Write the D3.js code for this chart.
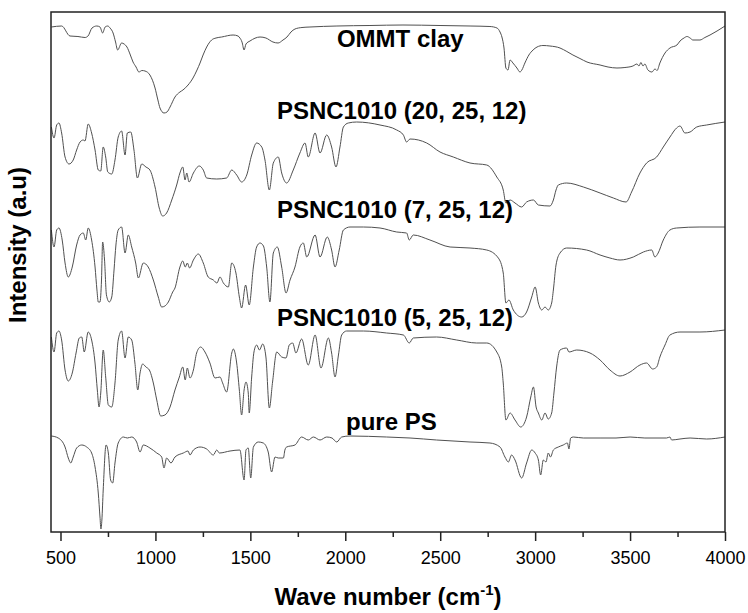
<!DOCTYPE html>
<html>
<head>
<meta charset="utf-8">
<script src="https://cdn.jsdelivr.net/npm/d3@7/dist/d3.min.js"></script>
<style>
  body { margin: 0; background: #fff; }
  text { font-family: "Liberation Sans", Arial, sans-serif; }
</style>
</head>
<body>
<svg id="chart" width="748" height="613"></svg>
<script>
// FTIR spectra, [wave number (cm-1), stacked intensity (a.u.)]
const ommtClay = [
  [452,50.5],[506,50.6],[550,49.6],[592,49.55],[629,49.45],[645,49.6],[666,50.4],[691,50.6],
  [708,50.5],[722,49.9],[735,50.5],[749,50.6],[761,50.4],[777,49.9],[790,49.0],[801,48.2],
  [822,48.9],[835,48.8],[850,48.5],[866,47.8],[882,47.0],[898,46.5],[913,46.0],[929,46.15],
  [945,46.1],[971,45.7],[998,44.4],[1013,43.2],[1024,42.4],[1045,41.9],[1061,42.0],[1077,42.5],
  [1103,43.5],[1129,44.0],[1145,44.2],[1172,44.7],[1198,45.4],[1219,46.2],[1235,46.9],[1251,47.7],
  [1270,48.5],[1296,49.2],[1319,49.4],[1349,49.5],[1409,49.7],[1435,49.6],[1445,49.4],[1456,49.0],
  [1467,48.2],[1477,48.8],[1498,49.1],[1551,49.5],[1582,49.4],[1619,49.0],[1646,48.9],[1672,49.2],
  [1693,49.5],[1714,50.0],[1735,50.3],[1772,50.45],[1814,50.5],[1956,50.6],[2130,50.65],[2304,50.7],
  [2499,50.65],[2657,50.6],[2762,50.55],[2799,50.4],[2815,50.0],[2825,49.5],[2836,48.4],[2846,46.4],
  [2857,46.2],[2868,47.2],[2883,46.9],[2904,46.4],[2920,46.0],[2930,46.2],[2946,46.9],[2967,47.7],
  [2989,48.2],[3010,48.5],[3041,48.65],[3078,48.6],[3131,48.4],[3167,48.05],[3199,47.7],[3236,47.35],
  [3273,47.0],[3342,46.7],[3384,46.5],[3431,46.4],[3473,46.45],[3515,46.6],[3536,46.8],[3547,46.6],
  [3557,46.95],[3568,46.6],[3578,46.8],[3594,46.2],[3615,46.0],[3631,46.3],[3642,46.15],[3657,46.9],
  [3684,47.9],[3710,48.4],[3747,48.7],[3763,49.1],[3784,49.4],[3800,49.55],[3816,49.4],[3831,49.2],
  [3868,49.2],[3894,49.45],[3921,49.7],[3958,50.1],[4000,50.6]
];

const psnc20 = [
  [452,40.5],[466,39.4],[480,40.7],[492,40.9],[506,39.9],[524,37.5],[545,36.8],[567,37.2],
  [585,38.2],[603,39.0],[620,39.2],[629,39.1],[646,40.8],[664,39.9],[682,38.2],[699,36.2],
  [712,36.1],[725,38.5],[738,37.5],[749,36.0],[770,35.8],[787,37.2],[804,39.5],[822,40.1],
  [840,37.7],[852,39.9],[870,40.0],[887,38.2],[905,35.4],[928,36.8],[950,36.5],[971,36.2],
  [998,34.5],[1020,32.4],[1038,31.6],[1059,31.9],[1086,33.2],[1112,34.7],[1129,35.9],[1144,36.5],
  [1156,35.2],[1165,35.9],[1177,35.0],[1200,35.9],[1231,36.6],[1252,36.2],[1270,35.4],[1323,35.3],
  [1375,35.4],[1402,36.2],[1428,35.7],[1454,35.0],[1481,35.7],[1507,37.7],[1533,38.9],[1560,38.5],
  [1577,37.2],[1600,34.2],[1621,36.9],[1647,37.5],[1665,35.9],[1691,34.9],[1726,36.2],[1761,37.9],
  [1788,38.9],[1805,37.5],[1841,39.9],[1867,37.9],[1902,39.7],[1928,38.5],[1951,36.5],[1972,38.5],
  [1990,40.5],[2016,40.9],[2060,41.0],[2183,40.7],[2271,40.2],[2306,39.7],[2323,39.0],[2341,39.3],
  [2429,38.9],[2499,38.0],[2569,37.5],[2657,36.9],[2745,36.7],[2798,35.5],[2832,34.2],[2846,32.9],
  [2868,33.2],[2894,32.9],[2929,32.5],[2955,33.0],[2991,33.2],[3017,32.7],[3078,32.6],[3096,33.2],
  [3110,34.2],[3122,34.7],[3166,34.9],[3254,34.5],[3342,33.9],[3412,33.4],[3479,33.0],[3508,34.0],
  [3552,35.9],[3587,36.9],[3640,37.5],[3675,38.5],[3710,39.5],[3745,40.4],[3763,40.6],[3789,39.9],
  [3816,40.0],[3851,40.5],[3903,40.7],[4000,41.0]
];

const psnc7 = [
  [452,30.2],[466,28.5],[480,30.2],[492,30.4],[509,29.2],[524,26.9],[541,25.5],[562,26.5],
  [585,28.7],[603,29.7],[620,29.9],[633,29.2],[646,30.4],[664,29.2],[682,26.5],[692,24.2],
  [699,23.0],[708,23.0],[716,25.2],[722,29.0],[732,27.2],[742,23.7],[757,23.0],[770,23.5],
  [782,26.2],[792,28.7],[804,30.2],[822,30.5],[840,27.9],[857,29.7],[875,28.5],[896,26.9],
  [910,25.4],[936,26.9],[962,26.5],[989,25.2],[1015,23.5],[1033,22.5],[1050,22.6],[1068,23.0],
  [1091,24.0],[1103,24.4],[1129,26.5],[1144,27.1],[1157,26.5],[1168,26.9],[1180,26.4],[1200,27.2],
  [1226,27.8],[1252,26.9],[1278,25.5],[1305,25.2],[1324,24.9],[1340,25.5],[1358,24.9],[1384,24.5],
  [1402,26.9],[1424,25.9],[1442,23.5],[1454,22.4],[1475,24.7],[1494,22.7],[1516,26.5],[1533,28.5],
  [1551,28.9],[1569,28.6],[1586,26.5],[1603,23.0],[1621,27.9],[1642,28.5],[1665,26.5],[1688,23.9],
  [1709,25.2],[1735,26.5],[1761,28.5],[1779,28.9],[1797,27.5],[1841,29.7],[1867,27.5],[1905,29.5],
  [1928,28.2],[1946,26.5],[1968,28.2],[1990,30.2],[2025,30.5],[2095,30.5],[2183,30.4],[2271,30.0],
  [2323,29.9],[2337,29.2],[2358,29.7],[2446,29.2],[2552,28.5],[2657,28.4],[2745,28.2],[2806,27.4],
  [2832,25.9],[2846,22.9],[2862,23.2],[2885,22.2],[2929,21.5],[2955,22.0],[2982,23.5],[3000,24.5],
  [3017,22.9],[3035,22.2],[3052,22.5],[3069,22.2],[3087,22.9],[3096,24.2],[3110,26.7],[3131,27.9],
  [3166,28.4],[3271,28.2],[3342,27.7],[3394,27.4],[3447,27.2],[3517,27.5],[3570,28.0],[3614,28.2],
  [3631,27.5],[3648,27.9],[3675,29.2],[3710,30.2],[3745,30.4],[3868,30.5],[4000,30.5]
];

const psnc5 = [
  [452,19.5],[466,18.0],[480,19.9],[492,20.1],[506,19.2],[524,16.2],[541,15.1],[562,15.9],
  [582,17.9],[599,19.4],[612,19.5],[625,18.0],[646,20.0],[664,19.2],[682,16.9],[694,14.2],
  [703,12.5],[712,13.9],[725,18.2],[738,15.5],[752,12.7],[770,12.5],[787,14.9],[804,19.2],
  [822,20.1],[840,17.4],[857,19.5],[875,19.2],[892,16.9],[907,14.2],[919,15.9],[933,16.8],
  [950,16.5],[968,16.2],[989,14.9],[1007,13.2],[1028,11.6],[1050,11.7],[1077,12.5],[1103,14.2],
  [1126,15.5],[1144,16.5],[1157,15.2],[1168,16.4],[1182,15.4],[1200,16.2],[1217,17.9],[1238,18.5],
  [1261,18.0],[1287,16.9],[1314,15.4],[1340,15.5],[1354,14.9],[1375,14.0],[1402,17.9],[1410,18.3],
  [1428,16.9],[1442,14.2],[1454,11.7],[1467,14.2],[1477,15.0],[1489,13.9],[1494,11.9],[1507,15.5],
  [1519,18.0],[1533,18.7],[1548,18.2],[1565,18.8],[1582,17.5],[1600,12.4],[1617,15.0],[1639,18.0],
  [1665,17.5],[1688,17.4],[1705,18.7],[1723,18.9],[1740,17.9],[1770,19.3],[1805,16.7],[1841,19.7],
  [1872,16.4],[1911,19.4],[1928,17.9],[1946,15.5],[1964,17.7],[1981,19.7],[2007,20.1],[2095,20.1],
  [2218,19.9],[2306,19.7],[2337,18.9],[2358,19.4],[2481,19.5],[2587,19.2],[2692,18.9],[2745,18.9],
  [2798,18.0],[2824,16.5],[2832,14.9],[2846,11.2],[2868,11.9],[2894,11.2],[2924,10.5],[2955,11.5],
  [2977,13.5],[2991,14.5],[3005,12.5],[3017,11.9],[3035,11.2],[3052,11.9],[3069,11.3],[3087,11.9],
  [3099,13.9],[3113,16.5],[3131,18.2],[3166,18.4],[3178,18.0],[3219,18.2],[3289,17.9],[3342,17.2],
  [3394,16.2],[3447,15.6],[3500,16.0],[3552,16.7],[3587,16.9],[3619,16.3],[3640,16.5],[3657,17.5],
  [3684,18.7],[3710,19.7],[3763,20.0],[3868,20.0],[4000,20.2]
];

const purePS = [
  [452,9.6],[488,9.4],[524,8.5],[541,7.4],[554,6.9],[567,7.5],[585,8.4],[612,8.7],
  [638,8.5],[664,7.9],[682,6.5],[699,3.9],[708,1.5],[713,0.3],[718,1.2],[725,4.2],
  [740,8.7],[752,7.9],[764,5.2],[775,4.9],[787,6.9],[804,8.9],[831,9.5],[852,9.4],
  [875,9.5],[901,9.0],[919,8.0],[936,8.7],[971,8.4],[1007,7.9],[1033,7.5],[1045,6.4],
  [1059,7.4],[1082,6.9],[1103,7.5],[1147,7.9],[1172,8.1],[1182,7.7],[1200,8.2],[1235,8.5],
  [1270,8.3],[1305,7.7],[1323,8.2],[1337,7.9],[1393,8.1],[1445,8.2],[1467,5.2],[1477,8.2],
  [1489,8.4],[1502,5.4],[1516,8.5],[1542,9.0],[1568,8.9],[1594,8.0],[1612,6.0],[1630,7.5],
  [1647,7.4],[1674,7.4],[1682,8.2],[1691,8.5],[1735,8.7],[1770,9.5],[1805,9.2],[1832,9.5],
  [1867,9.2],[1902,9.5],[1930,9.4],[1955,9.0],[1981,9.5],[2025,9.6],[2218,9.5],[2341,9.4],
  [2481,9.2],[2657,9.0],[2762,8.9],[2815,8.5],[2841,7.5],[2859,7.0],[2876,7.7],[2894,7.2],
  [2929,5.4],[2955,6.9],[2982,8.2],[3000,7.9],[3017,7.2],[3029,5.7],[3043,7.2],[3057,7.0],
  [3069,7.9],[3081,7.5],[3096,8.2],[3122,8.5],[3148,8.7],[3170,8.9],[3178,8.3],[3187,9.4],
  [3201,9.5],[3254,9.4],[3342,9.4],[3426,9.4],[3500,9.5],[3578,9.4],[3692,9.4],[3710,9.5],
  [3719,9.2],[3763,9.3],[3816,9.4],[3903,9.3],[4000,9.5]
];

const seriesNames = ["OMMT clay", "PSNC1010 (20, 25, 12)", "PSNC1010 (7, 25, 12)", "PSNC1010 (5, 25, 12)", "pure PS"];
const seriesData = [ommtClay, psnc20, psnc7, psnc5, purePS];
const majorTicks = [500, 1000, 1500, 2000, 2500, 3000, 3500, 4000];
const minorTicks = [750, 1250, 1750, 2250, 2750, 3250, 3750];

// label anchor (wave number, intensity) for each series name
const labelAt = [[1956, 48.5], [1640, 41.3], [1640, 31.4], [1640, 20.6], [2004, 10.2]];

const svg = d3.select("#chart");
const margin = { top: 12, right: 23, bottom: 81, left: 51 };
const width = 748 - margin.left - margin.right;
const height = 613 - margin.top - margin.bottom;

const x = d3.scaleLinear().domain([450, 4000]).range([0, width]);
const y = d3.scaleLinear().domain([0, 52]).range([height, 0]);

const g = svg.append("g").attr("transform", `translate(${margin.left},${margin.top})`);

// monotone curve keeps the band minima on the read points
const line = d3.line()
  .x((d) => x(d[0]))
  .y((d) => y(d[1]))
  .curve(d3.curveMonotoneX);

// spectra
g.selectAll("path.trace")
  .data(seriesData)
  .join("path")
  .attr("class", "trace")
  .attr("fill", "none")
  .attr("stroke", "#505050")
  .attr("stroke-width", 1)
  .attr("stroke-linejoin", "round")
  .attr("d", line);

// series labels
g.selectAll("text.lbl")
  .data(seriesNames)
  .join("text")
  .attr("class", "lbl")
  .attr("x", (d, i) => x(labelAt[i][0]))
  .attr("y", (d, i) => y(labelAt[i][1]))
  .attr("font-size", 24)
  .attr("font-weight", "bold")
  .attr("fill", "#000")
  .text((d) => d);

// frame
g.append("rect")
  .attr("width", width)
  .attr("height", height)
  .attr("fill", "none")
  .attr("stroke", "#222")
  .attr("stroke-width", 1.5);

// x axis, major + minor ticks
const xAxis = g.append("g")
  .attr("transform", `translate(0,${height})`)
  .call(d3.axisBottom(x).tickValues(majorTicks).tickSize(9).tickPadding(10).tickFormat(d3.format("d")));
xAxis.select(".domain").remove();
xAxis.selectAll(".tick line").attr("stroke", "#222").attr("stroke-width", 1.5);
xAxis.selectAll(".tick text")
  .attr("font-size", 18)
  .attr("fill", "#000")
  .style("font-family", "'Liberation Sans', Arial, sans-serif");

const xMinor = g.append("g")
  .attr("transform", `translate(0,${height})`)
  .call(d3.axisBottom(x).tickValues(minorTicks).tickSize(5).tickFormat(""));
xMinor.select(".domain").remove();
xMinor.selectAll(".tick line").attr("stroke", "#222").attr("stroke-width", 1.5);

// axis titles
const xTitle = svg.append("text")
  .attr("x", margin.left + width / 2)
  .attr("y", 605)
  .attr("text-anchor", "middle")
  .attr("font-size", 24)
  .attr("font-weight", "bold");
xTitle.append("tspan").text("Wave number (cm");
xTitle.append("tspan").attr("font-size", 15).attr("dy", -10).text("-1");
xTitle.append("tspan").attr("dy", 10).text(")");

svg.append("text")
  .attr("transform", "translate(26,245) rotate(-90)")
  .attr("text-anchor", "middle")
  .attr("font-size", 24)
  .attr("font-weight", "bold")
  .text("Intensity (a.u)");
</script>
</body>
</html>
